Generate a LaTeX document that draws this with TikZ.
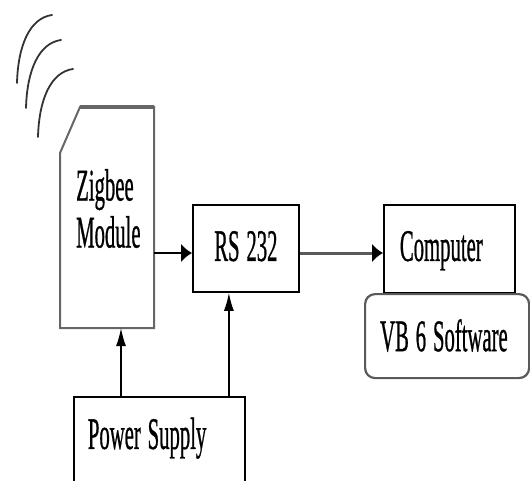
\documentclass[tikz,border=0pt]{standalone}
\usepackage{graphicx}
\usepackage{fontspec}
\newfontfamily\blockserif[FakeBold=1]{Liberation Serif}
\newcommand\sq[1]{\scalebox{0.46}[1]{#1}}
\usetikzlibrary{arrows.meta}

\begin{document}
\begin{tikzpicture}[x=1pt,y=-1pt,
  font=\blockserif\fontsize{45}{47}\selectfont,
  box/.style={draw,line width=1.8pt,inner ysep=0pt,align=left,anchor=north west},
  hflow/.style={line width=2pt,-{Latex[length=11pt,width=19pt]}},
  vflow/.style={line width=1.5pt,-{Latex[length=18pt,width=10pt]}}]
\useasboundingbox (0,0) rectangle (530,481);
\clip (0,0) rectangle (530,481);
% radio waves
\foreach \dx/\dy in {0/0,9/25,21/54}
  \draw[line width=1.8pt,black!80,line cap=round]
    (17+\dx,83+\dy) .. controls (18+\dx,45+\dy) and (30+\dx,18+\dy) .. (52+\dx,15+\dy);
% zigbee module (cut corner)
\draw[line width=2pt,black!60] (80,107) -- (154,107) -- (154,328) -- (60,328) -- (60,153) -- cycle;
\draw[line width=3.5pt,black!60] (80,107) -- (154,107);
\node[anchor=north west,inner sep=0pt,align=left] (zigbee) at (76,169) {\sq{Zigbee}\\\sq{Module}};
\coordinate (zbR) at (154,253);
\coordinate (zbB) at (121,328);
% boxes
\node[box,text width=106pt,inner xsep=0pt,align=center,text height=56pt,text depth=31pt] (rs) at (192,204) {\sq{RS 232}};
\node[box,text width=99pt,inner xsep=16pt,text height=56pt,text depth=32pt] (comp) at (383,204) {\sq{Computer}};
\node[box,text width=134pt,inner xsep=15pt,text height=57pt,text depth=27pt,
      draw=black!65,line width=2.2pt,rounded corners=10pt] (vb) at (364,293) {\sq{VB 6 Software}};
\node[box,text width=143pt,inner xsep=14pt,text height=52pt,text depth=80pt] (power) at (73,396) {\sq{Power Supply}};
% connections
\draw[hflow] (zbR) -- (zbR -| rs.west);
\draw[hflow,draw=black!65,line width=3pt,-{Latex[length=11pt,width=19pt,color=black]}] (rs.east |- zbR) -- (comp.west |- zbR);
\draw[vflow] (power.north -| zbB) -- (zbB);
\coordinate (psIn) at ([xshift=-17pt]rs.south);
\draw[vflow] (power.north -| psIn) -- (psIn);
\end{tikzpicture}
\end{document}
